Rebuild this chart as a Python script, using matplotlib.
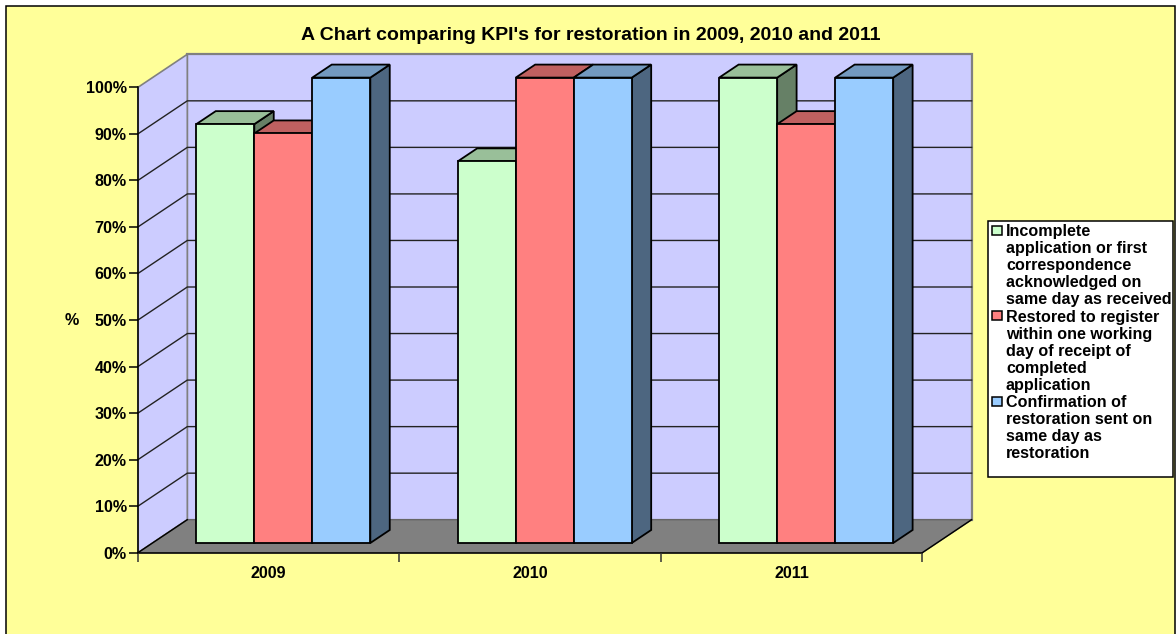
import matplotlib
matplotlib.use('Agg')
import matplotlib.pyplot as plt
from matplotlib.patches import Polygon, Rectangle

plt.rcParams['font.family'] = ['Liberation Sans', 'DejaVu Sans']
plt.rcParams['font.weight'] = 'bold'

#data
years = ['2009', '2010', '2011']
incomplete = [90, 82, 100]
restored = [88, 100, 90]
confirmation = [100, 100, 100]
series = [incomplete, restored, confirmation]
y_ticks = [0, 10, 20, 30, 40, 50, 60, 70, 80, 90, 100]
title = "A Chart comparing KPI's for restoration in 2009, 2010 and 2011"
legend_labels = [
    ['Incomplete', 'application or first', 'correspondence', 'acknowledged on', 'same day as received'],
    ['Restored to register', 'within one working', 'day of receipt of', 'completed', 'application'],
    ['Confirmation of', 'restoration sent on', 'same day as', 'restoration'],
]

#colours: front, top, side
colours = [('#CCFFCC', '#99BF99', '#668066'),
           ('#FF8080', '#BF6060', '#804040'),
           ('#99CCFF', '#7399BF', '#4D6680')]

W, H = 1176, 634
#shift of the full depth of the chart, in data units
DX = 49.3 / 261.4
DY = 33 / 4.654
BAR_W = 58 / 261.4
GAP = 43.8 / 261.4
D0, D1 = 0.294, 0.688  #depth where the bars start and end
FS = 11.6


def sk(x, y, d):
    return (x + d * DX, y + d * DY)


fig = plt.figure(figsize=(W / 100, H / 100), dpi=100, facecolor='white')

#background panel and legend, drawn in pixel units
bg = fig.add_axes([0, 0, 1, 1], zorder=0)
bg.set_xlim(0, W)
bg.set_ylim(H, 0)
bg.axis('off')
bg.add_patch(Rectangle((6, 6), 1169, 640, facecolor='#FFFF99', edgecolor='black', lw=1.1))

ax = fig.add_axes([138 / W, 1 - 552.7 / H, 784.3 / W, 465.4 / H], zorder=1)
ax.patch.set_visible(False)
ax.set_xlim(0, 3)
ax.set_ylim(0, 100)
for s in ['top', 'right']:
    ax.spines[s].set_visible(False)
for s in ['left', 'bottom']:
    ax.spines[s].set_linewidth(1.1)
    ax.spines[s].set_zorder(1.5)

#walls and floor
back = [sk(0, 0, 1), sk(3, 0, 1), sk(3, 100, 1), sk(0, 100, 1)]
side = [sk(0, 0, 0), sk(0, 0, 1), sk(0, 100, 1), sk(0, 100, 0)]
floor = [sk(0, 0, 0), sk(3, 0, 0), sk(3, 0, 1), sk(0, 0, 1)]
ax.add_patch(Polygon(back, facecolor='#CCCCFF', edgecolor='#808080', lw=1.6, clip_on=False, zorder=1))
ax.add_patch(Polygon(side, facecolor='#CCCCFF', edgecolor='#808080', lw=1.2, clip_on=False, zorder=1))
for v in y_ticks[1:-1]:
    ax.plot([0, DX, 3 + DX], [v, v + DY, v + DY], color='#222222', lw=1.0, clip_on=False,
            zorder=1.2, snap=False)
ax.add_patch(Polygon(floor, facecolor='#808080', edgecolor='#666666', lw=1.0, clip_on=False, zorder=1.3))
ax.plot([0, DX], [0, DY], color='black', lw=1.0, clip_on=False, zorder=1.4)
ax.plot([3, 3 + DX], [0, DY], color='black', lw=1.0, clip_on=False, zorder=1.4)

#bars, painted left to right so that later ones cover earlier sides
z = 2
for c in range(len(years)):
    for i, vals in enumerate(series):
        v = vals[c]
        front, top, dark = colours[i]
        x0 = c + GAP + i * BAR_W
        x1 = x0 + BAR_W
        ax.add_patch(Polygon([sk(x1, 0, D0), sk(x1, 0, D1), sk(x1, v, D1), sk(x1, v, D0)],
                             facecolor=dark, edgecolor='black', lw=1.3, clip_on=False, zorder=z))
        ax.add_patch(Polygon([sk(x0, v, D0), sk(x1, v, D0), sk(x1, v, D1), sk(x0, v, D1)],
                             facecolor=top, edgecolor='black', lw=1.3, clip_on=False, zorder=z))
        ax.bar(x0 + D0 * DX, v, BAR_W, bottom=D0 * DY, align='edge', facecolor=front,
               edgecolor='black', lw=1.3, clip_on=False, zorder=z + 0.5)
        z += 1

#axis ticks and labels
ax.set_yticks(y_ticks)
ax.set_yticklabels([str(v) + '%' for v in y_ticks], fontsize=FS, fontweight='bold')
ax.tick_params(axis='y', length=6.5, width=1.1, pad=1.5)
ax.set_xticks([0, 1, 2, 3])
ax.set_xticklabels([])
ax.tick_params(axis='x', length=6.2, width=1.1, color='#333333')
ax.set_xticks([0.5, 1.5, 2.5], minor=True)
ax.set_xticklabels(years, minor=True, fontsize=FS, fontweight='bold')
ax.tick_params(axis='x', which='minor', length=0, pad=9.7)
ax.set_ylabel('%', rotation=0, fontsize=FS, fontweight='bold', labelpad=10, va='center')

fig.text(590.5 / W, 1 - 35.5 / H, title, fontsize=14, fontweight='bold', ha='center', va='center')

#legend
leg = fig.add_axes([0, 0, 1, 1], zorder=2)
leg.set_xlim(0, W)
leg.set_ylim(H, 0)
leg.axis('off')
leg.add_patch(Rectangle((987.5, 220.7), 185.5, 256.3, facecolor='white', edgecolor='black', lw=1.1))
y = 230.0
for i, lines in enumerate(legend_labels):
    leg.add_patch(Rectangle((991.5, y - 4.5), 10, 9, facecolor=colours[i][0], edgecolor='black', lw=1.1))
    for line in lines:
        leg.text(1006, y, line, fontsize=FS, fontweight='bold', ha='left', va='center_baseline')
        y += 17.1

fig.savefig('out.png', dpi=100)
